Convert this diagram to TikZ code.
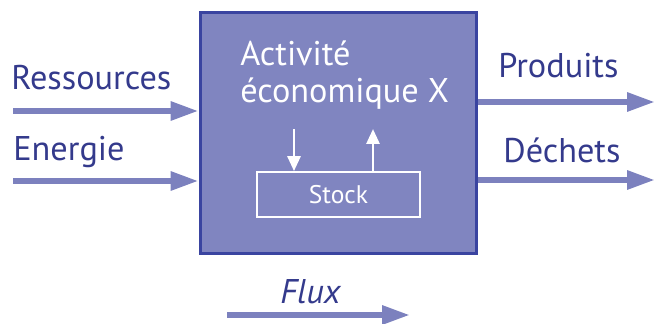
\documentclass[tikz,border=0pt]{standalone}
\usepackage{fontspec}
\setmainfont{PT Sans}
\usetikzlibrary{arrows.meta}
\definecolor{flowblue}{RGB}{124,129,190}
\definecolor{boxfill}{RGB}{128,133,192}
\definecolor{boxline}{RGB}{58,68,160}
\definecolor{textblue}{RGB}{52,58,140}
\tikzset{
  flow/.style={flowblue,line width=3.4pt,-{Triangle[length=0.56cm,width=0.36cm]}},
  inflow/.style={white,line width=1.6pt,-{Triangle[length=0.3cm,width=0.26cm]}},
  lbl/.style={anchor=base west,inner sep=0pt,textblue,font=\fontsize{19.5}{21}\selectfont},
  actbox/.style={draw=boxline,fill=boxfill,line width=1.7pt,inner sep=0pt,
    minimum width=5.54cm,minimum height=4.84cm},
  stockbox/.style={draw=white,line width=1pt,inner sep=0pt,text=white,
    minimum width=3.26cm,minimum height=0.9cm,font=\fontsize{14.5}{16}\selectfont}
}
\begin{document}
\begin{tikzpicture}[x=0.02cm,y=0.02cm]
  \useasboundingbox (0,0) rectangle (655,324);

% activity box and its stock
  \node[actbox] (act) at (338.5,191) {};
  \node[lbl,white] (act1) at (240,258) {Activité};
  \node[lbl,white] (act2) at (240,221) {économique X};
  \node[stockbox] (stock) at (338.5,129.5) {Stock};
  \coordinate (dn) at (294,195);
  \coordinate (up) at (373,195);
  \draw[inflow] (dn) -- (dn |- stock.north);
  \draw[inflow] (stock.north -| up) -- (up);

% inputs at left
  \node[lbl] (ress) at (11,234) {Ressources};
  \node[lbl] (ener) at (13,163) {Energie};
  \coordinate (ressin) at (13,213);
  \coordinate (enerin) at (13,143);
  \draw[flow] (ressin) -- (act.west |- ressin);
  \draw[flow] (enerin) -- (act.west |- enerin);

% outputs at right
  \node[lbl] (prod) at (498,246) {Produits};
  \node[lbl] (dech) at (503,161) {Déchets};
  \coordinate (prodout) at (655,222);
  \coordinate (dechout) at (655,144);
  \draw[flow] (act.east |- prodout) -- (prodout);
  \draw[flow] (act.east |- dechout) -- (dechout);

% legend
  \node[lbl,font=\fontsize{19.5}{21}\selectfont\itshape] (flux) at (280,20) {Flux};
  \coordinate (fluxa) at (227,9);
  \coordinate (fluxb) at (410,9);
  \draw[flow] (fluxa) -- (fluxb);
\end{tikzpicture}
\end{document}
